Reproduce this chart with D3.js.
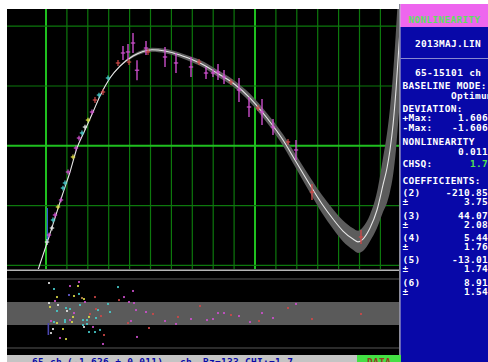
<!DOCTYPE html>
<html>
<head>
<meta charset="utf-8">
<script src="https://cdn.jsdelivr.net/npm/d3@7/dist/d3.min.js"></script>
<style>
html, body { margin: 0; padding: 0; background: #ffffff; overflow: hidden; }
svg { display: block; }
text { font-family: "DejaVu Sans Mono", "Liberation Mono", monospace; font-weight: bold; font-size: 9.5px; letter-spacing: 0.3px; }
</style>
</head>
<body>
<svg id="chart" width="488" height="362"></svg>
<script>
// ---- Fitted nonlinearity curve (channel, deviation in ch, confidence half-width in ch)
const fitChannels  = [-383, 48, 431, 766, 1148, 1483, 1866, 2249, 2584, 3062, 3541, 4163, 4641, 5072, 5694, 6411, 7033, 7368, 8182, 8947, 9761, 10574, 11340, 11914, 12632, 13206, 13732, 14211, 14689, 14928, 15167, 15502, 15837, 16124, 16316, 16459, 16603, 16746, 16890, 17033];
const fitDeviation = [-2.077, -1.625, -1.207, -0.839, -0.438, -0.037, 0.264, 0.565, 0.833, 1.134, 1.334, 1.502, 1.577, 1.606, 1.585, 1.518, 1.435, 1.385, 1.217, 1.050, 0.799, 0.465, 0.097, -0.237, -0.655, -0.973, -1.224, -1.425, -1.559, -1.606, -1.559, -1.375, -1.074, -0.655, -0.371, -0.070, 0.348, 0.933, 1.686, 2.438];
const fitBand      = [0.004, 0.004, 0.004, 0.004, 0.005, 0.006, 0.007, 0.008, 0.009, 0.010, 0.015, 0.025, 0.030, 0.035, 0.038, 0.040, 0.045, 0.048, 0.055, 0.060, 0.070, 0.080, 0.095, 0.110, 0.130, 0.150, 0.165, 0.175, 0.180, 0.185, 0.200, 0.220, 0.300, 0.450, 0.580, 0.700, 0.850, 1.000, 1.120, 1.250];

// ---- Measured peak positions relative to the linear baseline
const pointChannels  = [48, 144, 287, 335, 431, 574, 718, 813, 909, 1053, 1292, 1435, 1579, 1722, 1866, 2010, 2201, 2344, 2536, 2727, 2967, 3445, 3684, 3923, 3971, 4163, 4354, 4785, 4880, 5694, 6220, 6938, 7321, 7656, 7990, 8230, 8517, 8852, 9234, 9713, 10144, 10335, 10861, 11579, 11962, 12727, 15072];
const pointDeviation = [-1.609, -1.492, -1.375, -1.241, -1.157, -1.023, -0.906, -0.706, -0.622, -0.438, -0.187, -0.037, 0.130, 0.214, 0.314, 0.431, 0.565, 0.766, 0.849, 0.900, 1.134, 1.385, 1.552, 1.569, 1.401, 1.719, 1.264, 1.635, 1.569, 1.485, 1.385, 1.318, 1.401, 1.217, 1.217, 1.234, 1.151, 1.067, 0.933, 0.649, 0.632, 0.565, 0.314, 0.064, -0.070, -0.773, -1.525];
const pointError     = [0.05, 0.04, 0.04, 0.04, 0.04, 0.04, 0.04, 0.04, 0.04, 0.04, 0.04, 0.04, 0.04, 0.04, 0.04, 0.04, 0.04, 0.05, 0.04, 0.05, 0.04, 0.05, 0.117, 0.134, 0.05, 0.167, 0.167, 0.117, 0.05, 0.167, 0.167, 0.167, 0.05, 0.10, 0.067, 0.134, 0.117, 0.05, 0.20, 0.167, 0.05, 0.217, 0.134, 0.05, 0.167, 0.134, 0.117];
const pointColour    = ["w", "m", "w", "c", "m", "y", "m", "c", "c", "m", "y", "m", "m", "c", "w", "y", "m", "r", "c", "r", "c", "r", "m", "m", "r", "m", "m", "m", "r", "m", "m", "m", "r", "m", "m", "m", "m", "r", "m", "m", "r", "m", "m", "r", "m", "r", "r"];

// ---- Normalised residuals (in standard deviations)
const residualChannels = [144, 1148, 1579, 1531, 383, 3445, 4163, 526, 1100, 1340, 1579, 1722, 1818, 2344, 3732, 431, 1866, 3493, 3971, 144, 574, 1627, 2967, 4211, 191, 957, 1148, 2392, 2488, 526, 1005, 1340, 4306, 4785, 3062, 5120, 2105, 2632, 1292, 2057, 6316, 2392, 6938, 239, 383, 909, 1148, 1770, 1962, 1244, 909, 4067, 3923, 5694, 526, 1770, 1962, 6220, 2249, 1818, 2057, 2344, 2584, 813, 335, 239, 4928, 2775, 4354, 670, 957, 2727, 7368, 8230, 8517, 8852, 9234, 7703, 7990, 9761, 10191, 10335, 10861, 11579, 11962, 12727, 15072];
const residualValues   = [2.65, 2.39, 2.74, 2.39, 2.13, 2.30, 1.96, 1.43, 1.61, 1.52, 1.70, 1.35, 1.26, 1.43, 1.43, 1.09, 1.00, 1.17, 1.00, 0.91, 0.74, 0.74, 0.83, 0.91, 0.57, 0.48, 0.39, 0.39, 0.30, 0.22, 0.22, 0.04, 0.30, 0.13, 0.13, -0.04, -0.04, -0.22, -0.30, -0.30, -0.30, -0.39, -0.48, -0.65, -0.74, -0.57, -0.57, -0.57, -0.57, -0.74, -0.74, -0.65, -0.83, -0.65, -0.83, -1.00, -0.91, -0.91, -1.17, -1.17, -1.61, -1.61, -1.43, -1.35, -1.35, -1.70, -1.26, -1.87, -2.04, -2.13, -2.22, -2.65, 0.65, 0.04, 0.04, -0.13, -0.22, -0.57, -0.48, -0.74, -0.65, 0.04, -0.39, 0.48, 0.83, -0.48, -0.04];
const residualColour   = ["w", "m", "m", "y", "c", "c", "m", "y", "b", "y", "c", "o", "y", "r", "m", "m", "m", "r", "m", "w", "w", "c", "c", "m", "y", "c", "c", "r", "c", "c", "w", "m", "m", "m", "c", "r", "r", "r", "y", "y", "r", "c", "m", "m", "c", "c", "m", "c", "c", "y", "c", "m", "r", "m", "y", "c", "c", "m", "m", "w", "c", "c", "c", "y", "w", "w", "r", "r", "m", "m", "y", "m", "r", "m", "m", "r", "m", "m", "m", "m", "r", "m", "m", "r", "m", "r", "r"];

// ---- Grid ticks
const gridChannelTicks   = [0, 1000, 2000, 3000, 4000, 5000, 6000, 7000, 8000, 9000, 10000, 11000, 12000, 13000, 14000, 15000, 16000, 17000];
const majorChannelTicks  = [0, 10000];
const gridDeviationTicks = [2, 1, 0, -1, -2];
const majorDeviationTicks = [0];

// ---- Cursor at the first fitted channel
const cursorChannel = 65;
const cursorMainSpan = [-1.04, -1.625];
const cursorResidualSpan = [-0.83, -1.87];

// ---- Side panel text: [label, value, y]
const panelTitle = "NONLINEARITY";
const panelFile = "2013MAJ.LIN";
const panelRange = "65-15101 ch";
const panelRows = [
  ["BASELINE MODE:", "", 88.6],
  ["", "Optimum", 98.6],
  ["DEVIATION:", "", 111.6],
  ["+Max:", "1.606", 120.6],
  ["-Max:", "-1.606", 130.6],
  ["NONLINEARITY", "", 144.6],
  ["", "0.011", 154.6],
  ["CHSQ:", "1.7", 166.6],
  ["COEFFICIENTS:", "", 183.6],
  ["(2)", "-210.85", 195.6],
  ["±", "3.75", 204.6],
  ["(3)", "44.07", 218.6],
  ["±", "2.08", 227.6],
  ["(4)", "5.44", 240.6],
  ["±", "1.76", 249.6],
  ["(5)", "-13.01", 262.6],
  ["±", "1.74", 271.6],
  ["(6)", "8.91", 285.6],
  ["±", "1.54", 294.6]
];
const statusItems = [["65 ch", 32], ["(-1.626 ± 0.011)", 67], ["ch", 180], ["Bz=133", 203], ["CHI:=1.7", 245]];

const palette = { c: "#48d0d0", y: "#e0e048", m: "#d050d0", r: "#d04848", w: "#e8e8e8", o: "#c08850", b: "#6a60d8" };

// ---- Scales
const x = d3.scaleLinear().domain([0, 10000]).range([46, 255]);
const y = d3.scaleLinear().domain([-2, 2]).range([265.4, 26.2]);
const yRes = d3.scaleLinear().domain([-3, 3]).range([348, 279]);

const plot = { left: 7, right: 399, top: 9, mainBottom: 269, bottom: 355 };

const svg = d3.select("#chart");
svg.append("rect").attr("width", 488).attr("height", 362).attr("fill", "#ffffff");
svg.append("rect").attr("x", plot.left).attr("y", plot.top)
  .attr("width", plot.right - plot.left + 1).attr("height", plot.bottom - plot.top).attr("fill", "#000000");

const defs = svg.append("defs");
defs.append("clipPath").attr("id", "main-clip").append("rect")
  .attr("x", plot.left).attr("y", plot.top)
  .attr("width", plot.right - plot.left).attr("height", plot.mainBottom - plot.top);

const main = svg.append("g").attr("clip-path", "url(#main-clip)");

// grid
main.selectAll("line.vgrid").data(gridChannelTicks).join("line")
  .attr("x1", d => x(d)).attr("x2", d => x(d))
  .attr("y1", plot.top).attr("y2", plot.mainBottom)
  .attr("stroke", d => majorChannelTicks.includes(d) ? "#1fbf1f" : "#0d780d")
  .attr("stroke-width", d => majorChannelTicks.includes(d) ? 2 : 1.2);
main.selectAll("line.hgrid").data(gridDeviationTicks).join("line")
  .attr("x1", plot.left).attr("x2", plot.right)
  .attr("y1", d => y(d)).attr("y2", d => y(d))
  .attr("stroke", d => majorDeviationTicks.includes(d) ? "#1fbf1f" : "#0d780d")
  .attr("stroke-width", d => majorDeviationTicks.includes(d) ? 2 : 1.2);

// fit band and curve
const fit = fitChannels.map((c, i) => ({ c, d: fitDeviation[i], b: fitBand[i] }));
main.append("path").datum(fit)
  .attr("d", d3.area().curve(d3.curveMonotoneX)
    .x(p => x(p.c)).y0(p => y(p.d - p.b)).y1(p => y(p.d + p.b)))
  .attr("fill", "#5c5c5c");
main.append("path").datum(fit)
  .attr("d", d3.line().curve(d3.curveMonotoneX).x(p => x(p.c)).y(p => y(p.d)))
  .attr("fill", "none").attr("stroke", "#e6e6e6").attr("stroke-width", 1.1);

// cursor
main.append("line")
  .attr("x1", x(cursorChannel)).attr("x2", x(cursorChannel))
  .attr("y1", y(cursorMainSpan[0])).attr("y2", y(cursorMainSpan[1]))
  .attr("stroke", "#2f5ad0").attr("stroke-width", 1.3);

// measured points with error bars
const pts = pointChannels.map((c, i) => ({ c, d: pointDeviation[i], e: pointError[i], k: pointColour[i] }));
const pg = main.selectAll("g.pt").data(pts).join("g");
pg.append("line")
  .attr("x1", p => x(p.c)).attr("x2", p => x(p.c))
  .attr("y1", p => y(p.d - p.e)).attr("y2", p => y(p.d + p.e))
  .attr("stroke", p => palette[p.k]).attr("stroke-width", p => p.e > 0.06 ? 1.6 : 1.2)
  .attr("opacity", p => p.e > 0.06 ? 0.85 : 1);
pg.append("line")
  .attr("x1", p => x(p.c) - 2.2).attr("x2", p => x(p.c) + 2.2)
  .attr("y1", p => y(p.d)).attr("y2", p => y(p.d))
  .attr("stroke", p => palette[p.k]).attr("stroke-width", 1.2);

// ---- Residual panel
svg.append("line").attr("x1", plot.left).attr("x2", plot.right + 1)
  .attr("y1", 270.3).attr("y2", 270.3).attr("stroke", "#b4b4b4").attr("stroke-width", 1.4);
svg.append("line").attr("x1", plot.left).attr("x2", plot.right + 1)
  .attr("y1", yRes(3)).attr("y2", yRes(3)).attr("stroke", "#2c2c2c").attr("stroke-width", 2);
svg.append("line").attr("x1", plot.left).attr("x2", plot.right + 1)
  .attr("y1", yRes(-3)).attr("y2", yRes(-3)).attr("stroke", "#3a3a3a").attr("stroke-width", 1.6);
svg.append("rect").attr("x", plot.left).attr("width", plot.right - plot.left + 1)
  .attr("y", yRes(1)).attr("height", yRes(-1) - yRes(1)).attr("fill", "#5a5a5a");

svg.append("line")
  .attr("x1", x(cursorChannel) + 1).attr("x2", x(cursorChannel) + 1)
  .attr("y1", yRes(cursorResidualSpan[0])).attr("y2", yRes(cursorResidualSpan[1]))
  .attr("stroke", "#4a46b0").attr("stroke-width", 1.6);

const res = residualChannels.map((c, i) => ({ c, r: residualValues[i], k: residualColour[i] }));
svg.selectAll("rect.res").data(res).join("rect")
  .attr("x", p => x(p.c) - 1).attr("y", p => yRes(p.r) - 1)
  .attr("width", 2).attr("height", 2)
  .attr("fill", p => palette[p.k]).attr("opacity", 0.85);

// ---- Side panel
const px0 = 400.5;
svg.append("rect").attr("x", 399).attr("y", 4).attr("width", 1.5).attr("height", 358).attr("fill", "#8c8c9c");
svg.append("rect").attr("x", px0).attr("y", 4).attr("width", 488 - px0).attr("height", 23).attr("fill", "#ee66ee");
svg.append("rect").attr("x", px0).attr("y", 27).attr("width", 488 - px0).attr("height", 335).attr("fill", "#0808a8");
svg.append("text").attr("x", 444.5).attr("y", 22.6).attr("text-anchor", "middle")
  .attr("fill", "#5ee05e").attr("font-size", 9.5).attr("letter-spacing", 0).text(panelTitle);
svg.append("text").attr("x", 448).attr("y", 46.6).attr("text-anchor", "middle")
  .attr("fill", "#ffffff").text(panelFile);
svg.append("line").attr("x1", px0).attr("x2", 488).attr("y1", 58.5).attr("y2", 58.5)
  .attr("stroke", "#8a8ad0").attr("stroke-width", 1);
svg.append("text").attr("x", 415).attr("y", 75.6).attr("fill", "#ffffff").text(panelRange);

const rowG = svg.selectAll("g.row").data(panelRows).join("g");
rowG.append("text").attr("x", 402.5).attr("y", r => r[2]).attr("fill", "#ffffff").text(r => r[0]);
rowG.append("text")
  .attr("x", r => r[1] === "Optimum" ? 451 : 488)
  .attr("text-anchor", r => r[1] === "Optimum" ? "start" : "end")
  .attr("y", r => r[2])
  .attr("fill", r => r[0] === "CHSQ:" ? "#50e050" : "#ffffff")
  .text(r => r[1]);

// ---- Status bar
svg.append("rect").attr("x", plot.left).attr("y", 355).attr("width", 350).attr("height", 7).attr("fill", "#c4c4c4");
svg.append("rect").attr("x", 357).attr("y", 355).attr("width", 44).attr("height", 7).attr("fill", "#44e044");
svg.selectAll("text.status").data(statusItems).join("text")
  .attr("x", s => s[1]).attr("y", 364.5).attr("fill", "#0a0aa8").text(s => s[0]);
svg.append("text").attr("x", 367).attr("y", 364.5).attr("fill", "#9a3a20").text("DATA");
</script>
</body>
</html>
